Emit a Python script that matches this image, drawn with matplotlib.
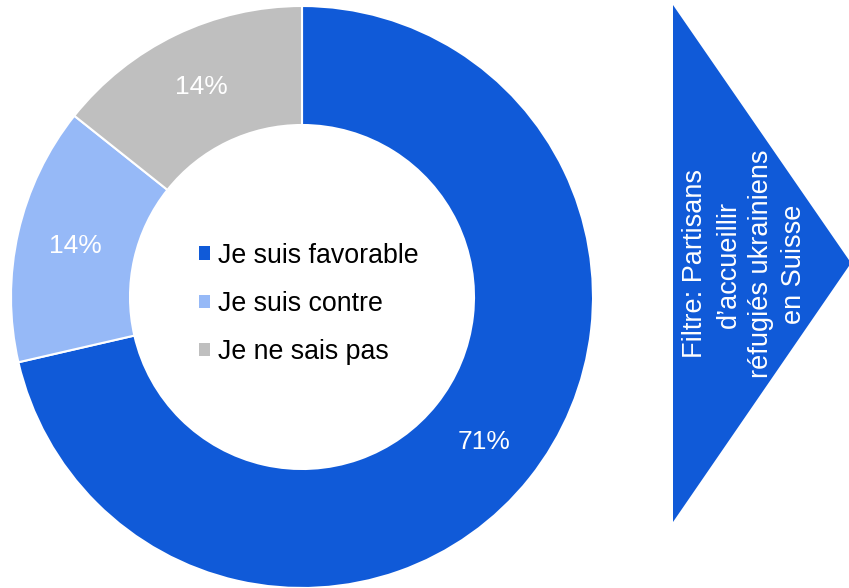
import matplotlib
matplotlib.use("Agg")
import matplotlib.pyplot as plt
from matplotlib.patches import Polygon

categories = ["Je suis favorable", "Je suis contre", "Je ne sais pas"]
values = [71.4, 14.3, 14.3]
colors = ["#105AD8", "#96B9F7", "#BFBFBF"]
filter_text = "Filtre: Partisans\nd\u2019accueillir\nréfugiés ukrainiens\nen Suisse"

plt.rcParams['font.family'] = ['Liberation Sans', 'DejaVu Sans']

W, H = 849, 588
fig = plt.figure(figsize=(W / 100, H / 100), dpi=100)
ax = fig.add_axes([0, 0, 1, 1])

cx, cy, R = 302, H - 297, 291
wedges, texts, autotexts = ax.pie(
    values, colors=colors, startangle=90, counterclock=False,
    center=(cx, cy), radius=R, autopct='%.0f%%', pctdistance=0.8,
    wedgeprops=dict(width=119, edgecolor='white', linewidth=1.5),
    textprops=dict(color='white', fontsize=19), frame=True)
ax.set_xlim(0, W)
ax.set_ylim(0, H)
ax.set_aspect('equal')
ax.axis('off')

leg = ax.legend(wedges, categories, loc='center',
                bbox_to_anchor=(309 / W, 284 / H), bbox_transform=fig.transFigure,
                frameon=False, fontsize=19.3, handlelength=0.4, handleheight=0.4,
                handletextpad=0.3, labelspacing=0.83, borderpad=0)
for h in leg.legend_handles:
    h.set_edgecolor('none')

tri = Polygon([[673, H - 5], [851, H - 263], [673, H - 522]], closed=True,
              facecolor="#105AD8", edgecolor='none')
ax.add_patch(tri)
ax.text(745, H - 264, filter_text, rotation=90, ha='center', va='center',
        multialignment='center', color='white', fontsize=19.5, linespacing=1.35)

fig.savefig("out.png", dpi=100)
